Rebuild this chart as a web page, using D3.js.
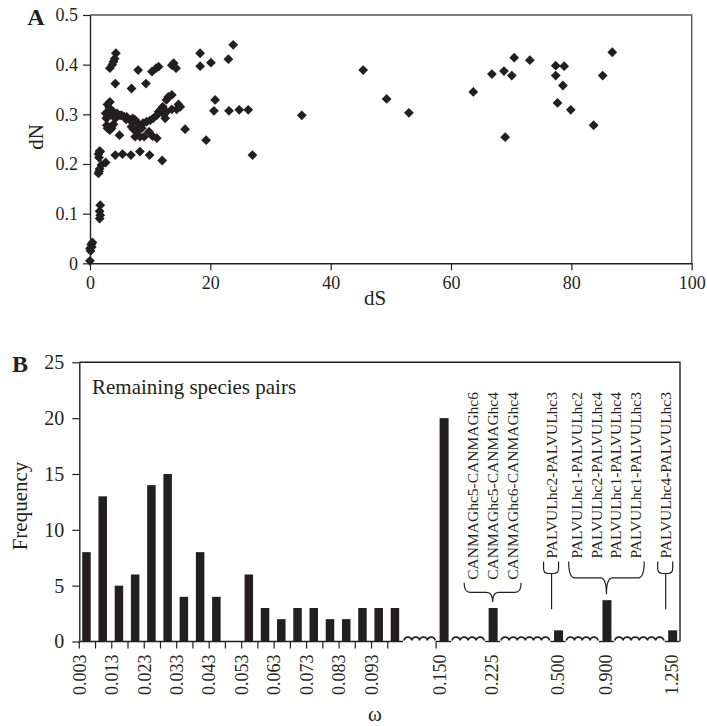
<!DOCTYPE html>
<html>
<head>
<meta charset="utf-8">
<script src="https://cdn.jsdelivr.net/npm/d3@7"></script>
<style>
  body { margin: 0; background: #fff; }
  text { font-family: "Liberation Serif", "Times New Roman", serif; fill: #231f20; }
</style>
</head>
<body>
<div id="chart"></div>
<script>
// Panel A: dN against dS for each species pair
const scatterPairs = [
  [0.0, 0.005], [0.1, 0.025], [0.0, 0.030], [0.3, 0.033], [0.4, 0.042], [0.2, 0.038],
  [1.7, 0.117], [1.6, 0.105], [1.7, 0.097], [1.6, 0.090],
  [1.6, 0.226], [1.4, 0.220], [1.5, 0.213], [1.7, 0.225], [1.4, 0.181], [1.6, 0.190],
  [1.9, 0.198], [2.6, 0.203], [1.5, 0.185],
  [4.2, 0.218], [5.4, 0.220], [6.8, 0.218], [8.3, 0.225], [9.9, 0.218], [12.0, 0.207],
  [3.3, 0.393], [3.7, 0.400], [3.9, 0.406], [4.1, 0.412], [4.3, 0.423], [4.2, 0.362],
  [6.9, 0.352], [8.0, 0.389], [9.3, 0.362], [10.3, 0.386], [11.0, 0.393], [11.4, 0.396],
  [13.6, 0.399], [13.9, 0.403], [14.3, 0.393],
  [2.6, 0.302], [2.7, 0.292], [2.9, 0.320], [3.2, 0.313], [3.3, 0.325], [3.0, 0.295],
  [3.6, 0.299], [3.9, 0.305], [4.2, 0.292], [4.5, 0.302], [5.0, 0.298], [5.3, 0.298],
  [5.7, 0.295], [6.1, 0.295], [6.6, 0.289], [7.1, 0.292], [7.5, 0.289], [8.1, 0.280],
  [8.8, 0.282], [9.4, 0.285], [10.0, 0.288], [10.5, 0.292], [11.1, 0.298], [11.4, 0.305],
  [12.1, 0.315], [12.5, 0.292], [12.7, 0.305], [12.7, 0.329], [13.0, 0.335], [13.6, 0.339],
  [13.6, 0.310], [14.4, 0.310], [15.0, 0.315], [14.7, 0.320],
  [2.8, 0.278], [2.9, 0.272], [3.6, 0.272], [3.3, 0.268], [3.9, 0.280], [4.9, 0.258],
  [6.9, 0.275], [7.2, 0.270], [7.5, 0.255], [7.9, 0.268], [8.6, 0.272], [8.3, 0.255],
  [9.0, 0.255], [9.8, 0.265], [10.4, 0.256], [11.1, 0.252], [7.0, 0.285], [6.0, 0.290],
  [11.8, 0.310], [12.3, 0.300],
  [15.8, 0.270], [18.3, 0.423], [18.3, 0.397], [20.1, 0.404], [23.0, 0.411], [23.8, 0.440],
  [20.8, 0.329], [20.6, 0.307], [23.1, 0.307], [24.8, 0.309], [26.3, 0.309], [19.3, 0.248],
  [27.0, 0.218], [35.2, 0.298],
  [45.4, 0.389], [49.3, 0.331], [53.0, 0.303], [63.7, 0.345], [66.8, 0.381], [68.8, 0.387],
  [69.0, 0.254], [70.1, 0.378], [70.5, 0.414], [73.1, 0.409], [77.4, 0.398], [78.8, 0.397],
  [77.4, 0.378], [78.6, 0.358], [77.7, 0.323], [79.9, 0.309], [83.7, 0.278], [85.2, 0.378],
  [86.8, 0.425]
];
const dsTicks = [0, 20, 40, 60, 80, 100];
const dnTicks = [0, 0.1, 0.2, 0.3, 0.4, 0.5];

// Panel B: frequency of omega
const binCounts = [8, 13, 5, 6, 14, 15, 4, 8, 4, 0, 6, 3, 2, 3, 3, 2, 2, 3, 3, 3];
const binTickLabels = ["0.003", "0.013", "0.023", "0.033", "0.043", "0.053", "0.063", "0.073", "0.083", "0.093"];
const outlierLabels = ["0.150", "0.225", "0.500", "0.900", "1.250"];
const outlierCounts = [20, 3, 1, 3.7, 1];
const freqTicks = [0, 5, 10, 15, 20, 25];
const pairGroups = [
  { bin: 1, pairs: ["CANMAGhc5-CANMAGhc6", "CANMAGhc5-CANMAGhc4", "CANMAGhc6-CANMAGhc4"] },
  { bin: 2, pairs: ["PALVULhc2-PALVULhc3"] },
  { bin: 3, pairs: ["PALVULhc1-PALVULhc2", "PALVULhc2-PALVULhc4", "PALVULhc1-PALVULhc4", "PALVULhc1-PALVULhc3"] },
  { bin: 4, pairs: ["PALVULhc4-PALVULhc3"] }
];

const ink = "#231f20";
const svg = d3.select("#chart").append("svg")
  .attr("width", 707).attr("height", 726);

function styleAxis(g, size) {
  g.select(".domain").attr("stroke", ink).attr("stroke-width", 1.4);
  g.selectAll(".tick line").attr("stroke", ink).attr("stroke-width", 1.2);
  g.selectAll(".tick text").attr("fill", ink)
    .style("font-family", '"Liberation Serif", serif').style("font-size", size + "px");
}

// ---------- Panel A ----------
const xA = d3.scaleLinear().domain([0, 100]).range([90, 691.7]);
const yA = d3.scaleLinear().domain([0, 0.5]).range([263.3, 15]);
const gA = svg.append("g");

gA.append("path")
  .attr("d", `M${xA(0)},${yA(0.5)}H${xA(100)}V${yA(0)}`)
  .attr("fill", "none").attr("stroke", "#555").attr("stroke-width", 1.4);

gA.append("g")
  .attr("transform", `translate(0,${yA(0)})`)
  .call(d3.axisBottom(xA).tickValues(dsTicks).tickSize(7).tickPadding(6).tickSizeOuter(0))
  .call(g => styleAxis(g, 18));

gA.append("g")
  .attr("transform", `translate(${xA(0)},0)`)
  .call(d3.axisLeft(yA).tickValues(dnTicks).tickSize(7).tickPadding(5).tickSizeOuter(0)
    .tickFormat(d => d === 0 ? "0" : d3.format(".1f")(d)))
  .call(g => styleAxis(g, 18));

const diamond = d3.symbol(d3.symbolSquare, 48);
gA.append("g").selectAll("path")
  .data(scatterPairs)
  .join("path")
  .attr("d", diamond)
  .attr("transform", d => `translate(${xA(d[0])},${yA(d[1])}) rotate(45)`)
  .attr("fill", ink);

gA.append("text").attr("x", 375).attr("y", 305).attr("text-anchor", "middle")
  .style("font-size", "21px").text("dS");
gA.append("text").attr("transform", "translate(43,137) rotate(-90)").attr("text-anchor", "middle")
  .style("font-size", "21px").text("dN");
gA.append("text").attr("x", 36).attr("y", 25).attr("text-anchor", "middle")
  .style("font-size", "24px").style("font-weight", "bold").text("A");

// ---------- Panel B ----------
// x runs over "slots": 20 regular bins, then the broken part with the outlier bins
const xB = d3.scaleLinear().domain([0, 37]).range([79.3, 680]);
const yB = d3.scaleLinear().domain([0, 25]).range([641.5, 362.3]);
const outlierSlots = [22.47, 25.49, 29.52, 32.5, 36.55];
const y0 = yB(0);
const gB = svg.append("g");

gB.append("path")
  .attr("d", `M${xB(0)},${yB(25)}H${xB(37)}V${y0}`)
  .attr("fill", "none").attr("stroke", ink).attr("stroke-width", 1.4);

gB.append("g")
  .attr("transform", `translate(${xB(0)},0)`)
  .call(d3.axisLeft(yB).tickValues(freqTicks).tickSize(7).tickPadding(8).tickSizeOuter(0))
  .call(g => styleAxis(g, 20));

// regular bins
gB.append("g").selectAll("rect")
  .data(binCounts)
  .join("rect")
  .attr("x", (d, i) => xB(i + 0.5) - 5.2)
  .attr("width", 8.5)
  .attr("y", d => yB(d))
  .attr("height", d => y0 - yB(d))
  .attr("fill", ink);

gB.append("line").attr("x1", xB(0)).attr("x2", xB(20) - 1)
  .attr("y1", y0).attr("y2", y0).attr("stroke", ink).attr("stroke-width", 1.4);
gB.append("g").selectAll("line")
  .data(d3.range(20))
  .join("line")
  .attr("x1", i => xB(i)).attr("x2", i => xB(i))
  .attr("y1", y0).attr("y2", y0 + 7)
  .attr("stroke", ink).attr("stroke-width", 1.2);
gB.append("g").selectAll("text")
  .data(binTickLabels)
  .join("text")
  .attr("transform", (d, i) => `translate(${xB(i * 2)},${y0 + 13}) rotate(-90)`)
  .attr("text-anchor", "end").attr("dy", "0.35em")
  .style("font-size", "18px").text(d => d);

// outlier bins on the broken axis
const barW = 9;
gB.append("g").selectAll("rect")
  .data(outlierCounts)
  .join("rect")
  .attr("x", (d, i) => xB(outlierSlots[i]) - barW / 2)
  .attr("width", barW)
  .attr("y", d => yB(d))
  .attr("height", d => y0 - yB(d))
  .attr("fill", ink);

const segs = outlierSlots.map(s => [xB(s) - 8, Math.min(xB(s) + 7, xB(37))]);
gB.append("g").selectAll("line")
  .data(segs)
  .join("line")
  .attr("x1", d => d[0]).attr("x2", d => d[1])
  .attr("y1", y0).attr("y2", y0).attr("stroke", ink).attr("stroke-width", 1.4);
gB.append("line").attr("x1", segs[0][0]).attr("x2", segs[0][0])
  .attr("y1", y0).attr("y2", y0 + 7).attr("stroke", ink).attr("stroke-width", 1.2);

gB.append("g").selectAll("text")
  .data(outlierLabels)
  .join("text")
  .attr("transform", (d, i) => `translate(${xB(outlierSlots[i]) - (i === 0 ? 4 : 1)},${y0 + 13}) rotate(-90)`)
  .attr("text-anchor", "end").attr("dy", "0.35em")
  .style("font-size", "18px").text(d => d);

// squiggles marking the axis breaks
const gaps = [[xB(20) - 1, segs[0][0]]];
for (let k = 1; k < segs.length; k++) gaps.push([segs[k - 1][1], segs[k][0]]);
function squiggle([a, b]) {
  a += 1; b -= 1;
  const n = Math.max(2, Math.round((b - a) / 8));
  const w = (b - a) / n;
  let p = `M${a},${y0 - 1}`;
  for (let k = 1; k <= n; k++) p += `A${w / 2},3.4 0 0 1 ${a + w * k},${y0 - 1}`;
  return p;
}
gB.append("g").selectAll("path")
  .data(gaps)
  .join("path")
  .attr("d", squiggle)
  .attr("fill", "none").attr("stroke", ink).attr("stroke-width", 1.8);

// species pair annotations
const textTop = 392;
const gN = gB.append("g");
pairGroups.forEach(grp => {
  const cx = xB(outlierSlots[grp.bin]);
  const barTop = yB(outlierCounts[grp.bin]);
  const n = grp.pairs.length;
  const step = n === 1 ? 0 : (n === 3 ? 20 : 19.5);
  const mid = n === 1 ? cx - 7 : cx - 1;
  const cols = grp.pairs.map((p, j) => mid + (j - (n - 1) / 2) * step);
  let bottom = 0;
  grp.pairs.forEach((p, j) => {
    const t = gN.append("text")
      .attr("transform", `translate(${cols[j]},${textTop}) rotate(-90)`)
      .attr("text-anchor", "end").attr("dy", "0.35em")
      .style("font-size", "15.5px").text(p);
    bottom = Math.max(bottom, textTop + t.node().getComputedTextLength());
  });
  const ya = bottom + 3;
  let d;
  if (n === 1) {
    const a = cols[0] - 8, b = cols[0] + 7, yb = ya + 12;
    d = `M${a},${ya}V${yb - 5}Q${a},${yb} ${a + 5},${yb}H${b - 5}Q${b},${yb} ${b},${yb - 5}V${ya}` +
        `M${cols[0]},${yb}V${barTop - 21}`;
  } else {
    const a = cols[0] - 8, b = cols[n - 1] + 9, m = (a + b) / 2;
    const yt = barTop - 6, yh = (ya + yt) / 2;
    d = `M${a},${ya}Q${a},${yh} ${a + 6},${yh}H${m - 6}Q${m},${yh} ${m},${yt}` +
        `Q${m},${yh} ${m + 6},${yh}H${b - 6}Q${b},${yh} ${b},${ya}`;
  }
  gN.append("path").attr("d", d).attr("fill", "none").attr("stroke", ink).attr("stroke-width", 1.2);
});

gB.append("text").attr("x", 92).attr("y", 394).style("font-size", "21px").text("Remaining species pairs");
gB.append("text").attr("transform", "translate(27,506) rotate(-90)").attr("text-anchor", "middle")
  .style("font-size", "21px").text("Frequency");
gB.append("text").attr("x", 375).attr("y", 721).attr("text-anchor", "middle")
  .style("font-size", "21px").text("ω");
gB.append("text").attr("x", 20).attr("y", 372).attr("text-anchor", "middle")
  .style("font-size", "24px").style("font-weight", "bold").text("B");
</script>
</body>
</html>
